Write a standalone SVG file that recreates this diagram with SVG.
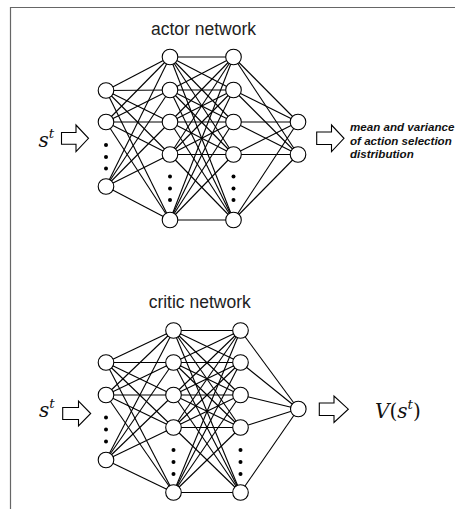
<svg xmlns="http://www.w3.org/2000/svg" width="455" height="509" viewBox="0 0 455 509">
<style>
.frame{fill:none;stroke:#666;stroke-width:1.2}
.c{stroke:#000;stroke-width:1.1;fill:none}
.n{fill:#fff;stroke:#000;stroke-width:1.1}
.dot{fill:#000}
.arr{fill:#fff;stroke:#000;stroke-width:1.1;stroke-linejoin:miter}
.title{font-family:"Liberation Sans",Arial,sans-serif;font-size:17.5px;fill:#222}
.math{font-family:"DejaVu Serif","Liberation Serif",serif;font-style:italic;font-size:20px;fill:#111}
.up{font-style:normal}
.sup{font-size:13.5px}
.out{font-family:"Liberation Sans",Arial,sans-serif;font-weight:bold;font-style:italic;font-size:11.6px;fill:#111}
</style>
<rect width="455" height="509" fill="#fff"/>
<path class="frame" d="M10.5,509 V7.5 H455"/>

<g id="connectors">
<g id="actor-links" class="c">
<line x1="106" y1="90.5" x2="170" y2="57"/><line x1="106" y1="90.5" x2="170" y2="90"/><line x1="106" y1="90.5" x2="170" y2="122"/><line x1="106" y1="90.5" x2="170" y2="154.5"/><line x1="106" y1="90.5" x2="170" y2="220"/>
<line x1="106" y1="122" x2="170" y2="57"/><line x1="106" y1="122" x2="170" y2="90"/><line x1="106" y1="122" x2="170" y2="122"/><line x1="106" y1="122" x2="170" y2="154.5"/><line x1="106" y1="122" x2="170" y2="220"/>
<line x1="106" y1="186.5" x2="170" y2="57"/><line x1="106" y1="186.5" x2="170" y2="90"/><line x1="106" y1="186.5" x2="170" y2="122"/><line x1="106" y1="186.5" x2="170" y2="154.5"/><line x1="106" y1="186.5" x2="170" y2="220"/>
<line x1="170" y1="57" x2="233.5" y2="57"/><line x1="170" y1="57" x2="233.5" y2="90"/><line x1="170" y1="57" x2="233.5" y2="122"/><line x1="170" y1="57" x2="233.5" y2="154.5"/><line x1="170" y1="57" x2="233.5" y2="220"/>
<line x1="170" y1="90" x2="233.5" y2="57"/><line x1="170" y1="90" x2="233.5" y2="90"/><line x1="170" y1="90" x2="233.5" y2="122"/><line x1="170" y1="90" x2="233.5" y2="154.5"/><line x1="170" y1="90" x2="233.5" y2="220"/>
<line x1="170" y1="122" x2="233.5" y2="57"/><line x1="170" y1="122" x2="233.5" y2="90"/><line x1="170" y1="122" x2="233.5" y2="122"/><line x1="170" y1="122" x2="233.5" y2="154.5"/><line x1="170" y1="122" x2="233.5" y2="220"/>
<line x1="170" y1="154.5" x2="233.5" y2="57"/><line x1="170" y1="154.5" x2="233.5" y2="90"/><line x1="170" y1="154.5" x2="233.5" y2="122"/><line x1="170" y1="154.5" x2="233.5" y2="154.5"/><line x1="170" y1="154.5" x2="233.5" y2="220"/>
<line x1="170" y1="220" x2="233.5" y2="57"/><line x1="170" y1="220" x2="233.5" y2="90"/><line x1="170" y1="220" x2="233.5" y2="122"/><line x1="170" y1="220" x2="233.5" y2="154.5"/><line x1="170" y1="220" x2="233.5" y2="220"/>
<line x1="233.5" y1="57" x2="298" y2="122"/><line x1="233.5" y1="57" x2="298" y2="154.5"/>
<line x1="233.5" y1="90" x2="298" y2="122"/><line x1="233.5" y1="90" x2="298" y2="154.5"/>
<line x1="233.5" y1="122" x2="298" y2="122"/><line x1="233.5" y1="122" x2="298" y2="154.5"/>
<line x1="233.5" y1="154.5" x2="298" y2="122"/><line x1="233.5" y1="154.5" x2="298" y2="154.5"/>
<line x1="233.5" y1="220" x2="298" y2="122"/><line x1="233.5" y1="220" x2="298" y2="154.5"/>
</g>
<g id="critic-links" class="c">
<line x1="106" y1="362.5" x2="173.5" y2="330.5"/><line x1="106" y1="362.5" x2="173.5" y2="362.5"/><line x1="106" y1="362.5" x2="173.5" y2="395"/><line x1="106" y1="362.5" x2="173.5" y2="427.5"/><line x1="106" y1="362.5" x2="173.5" y2="492.5"/>
<line x1="106" y1="395" x2="173.5" y2="330.5"/><line x1="106" y1="395" x2="173.5" y2="362.5"/><line x1="106" y1="395" x2="173.5" y2="395"/><line x1="106" y1="395" x2="173.5" y2="427.5"/><line x1="106" y1="395" x2="173.5" y2="492.5"/>
<line x1="106" y1="460" x2="173.5" y2="330.5"/><line x1="106" y1="460" x2="173.5" y2="362.5"/><line x1="106" y1="460" x2="173.5" y2="395"/><line x1="106" y1="460" x2="173.5" y2="427.5"/><line x1="106" y1="460" x2="173.5" y2="492.5"/>
<line x1="173.5" y1="330.5" x2="240.5" y2="330.5"/><line x1="173.5" y1="330.5" x2="240.5" y2="362.5"/><line x1="173.5" y1="330.5" x2="240.5" y2="395"/><line x1="173.5" y1="330.5" x2="240.5" y2="427.5"/><line x1="173.5" y1="330.5" x2="240.5" y2="492.5"/>
<line x1="173.5" y1="362.5" x2="240.5" y2="330.5"/><line x1="173.5" y1="362.5" x2="240.5" y2="362.5"/><line x1="173.5" y1="362.5" x2="240.5" y2="395"/><line x1="173.5" y1="362.5" x2="240.5" y2="427.5"/><line x1="173.5" y1="362.5" x2="240.5" y2="492.5"/>
<line x1="173.5" y1="395" x2="240.5" y2="330.5"/><line x1="173.5" y1="395" x2="240.5" y2="362.5"/><line x1="173.5" y1="395" x2="240.5" y2="395"/><line x1="173.5" y1="395" x2="240.5" y2="427.5"/><line x1="173.5" y1="395" x2="240.5" y2="492.5"/>
<line x1="173.5" y1="427.5" x2="240.5" y2="330.5"/><line x1="173.5" y1="427.5" x2="240.5" y2="362.5"/><line x1="173.5" y1="427.5" x2="240.5" y2="395"/><line x1="173.5" y1="427.5" x2="240.5" y2="427.5"/><line x1="173.5" y1="427.5" x2="240.5" y2="492.5"/>
<line x1="173.5" y1="492.5" x2="240.5" y2="330.5"/><line x1="173.5" y1="492.5" x2="240.5" y2="362.5"/><line x1="173.5" y1="492.5" x2="240.5" y2="395"/><line x1="173.5" y1="492.5" x2="240.5" y2="427.5"/><line x1="173.5" y1="492.5" x2="240.5" y2="492.5"/>
<line x1="240.5" y1="330.5" x2="298.3" y2="409"/><line x1="240.5" y1="362.5" x2="298.3" y2="409"/><line x1="240.5" y1="395" x2="298.3" y2="409"/><line x1="240.5" y1="427.5" x2="298.3" y2="409"/><line x1="240.5" y1="492.5" x2="298.3" y2="409"/>
</g>
</g>

<g id="actor">
<text class="title" x="203.5" y="35" text-anchor="middle">actor network</text>
<g id="actor-l1">
<circle class="n" cx="106" cy="90.5" r="7.8"/><circle class="n" cx="106" cy="122" r="7.8"/><circle class="n" cx="106" cy="186.5" r="7.8"/>
<circle class="dot" cx="106" cy="145" r="2"/><circle class="dot" cx="106" cy="157" r="2"/><circle class="dot" cx="106" cy="168.5" r="2"/>
</g>
<g id="actor-l2">
<circle class="n" cx="170" cy="57" r="7.8"/><circle class="n" cx="170" cy="90" r="7.8"/><circle class="n" cx="170" cy="122" r="7.8"/><circle class="n" cx="170" cy="154.5" r="7.8"/><circle class="n" cx="170" cy="220" r="7.8"/>
<circle class="dot" cx="170" cy="176.5" r="2"/><circle class="dot" cx="170" cy="188.5" r="2"/><circle class="dot" cx="170" cy="200" r="2"/>
</g>
<g id="actor-l3">
<circle class="n" cx="233.5" cy="57" r="7.8"/><circle class="n" cx="233.5" cy="90" r="7.8"/><circle class="n" cx="233.5" cy="122" r="7.8"/><circle class="n" cx="233.5" cy="154.5" r="7.8"/><circle class="n" cx="233.5" cy="220" r="7.8"/>
<circle class="dot" cx="233.5" cy="176.5" r="2"/><circle class="dot" cx="233.5" cy="188.5" r="2"/><circle class="dot" cx="233.5" cy="200" r="2"/>
</g>
<g id="actor-l4">
<circle class="n" cx="298" cy="122" r="7.8"/><circle class="n" cx="298" cy="154.5" r="7.8"/>
</g>
<g id="actor-input">
<text class="math" x="38.5" y="146.5">s<tspan class="sup" dy="-9">t</tspan></text>
<polygon class="arr" points="61.5,132.5 76,132.5 76,125 88.5,138.3 76,151.7 76,144.3 61.5,144.3"/>
</g>
<g id="actor-output">
<polygon class="arr" points="316.7,132 331.5,132 331.5,125 344,138.3 331.5,151.7 331.5,144.5 316.7,144.5"/>
<text class="out" x="350" y="131">mean and variance</text>
<text class="out" x="350" y="144.5">of action selection</text>
<text class="out" x="350" y="158">distribution</text>
</g>
</g>

<g id="critic">
<text class="title" x="199.7" y="308.3" text-anchor="middle">critic network</text>
<g id="critic-l1">
<circle class="n" cx="106" cy="362.5" r="7.8"/><circle class="n" cx="106" cy="395" r="7.8"/><circle class="n" cx="106" cy="460" r="7.8"/>
<circle class="dot" cx="106" cy="417.5" r="2"/><circle class="dot" cx="106" cy="429.5" r="2"/><circle class="dot" cx="106" cy="441.5" r="2"/>
</g>
<g id="critic-l2">
<circle class="n" cx="173.5" cy="330.5" r="7.8"/><circle class="n" cx="173.5" cy="362.5" r="7.8"/><circle class="n" cx="173.5" cy="395" r="7.8"/><circle class="n" cx="173.5" cy="427.5" r="7.8"/><circle class="n" cx="173.5" cy="492.5" r="7.8"/>
<circle class="dot" cx="173.5" cy="450" r="2"/><circle class="dot" cx="173.5" cy="462" r="2"/><circle class="dot" cx="173.5" cy="474" r="2"/>
</g>
<g id="critic-l3">
<circle class="n" cx="240.5" cy="330.5" r="7.8"/><circle class="n" cx="240.5" cy="362.5" r="7.8"/><circle class="n" cx="240.5" cy="395" r="7.8"/><circle class="n" cx="240.5" cy="427.5" r="7.8"/><circle class="n" cx="240.5" cy="492.5" r="7.8"/>
<circle class="dot" cx="240.5" cy="450" r="2"/><circle class="dot" cx="240.5" cy="462" r="2"/><circle class="dot" cx="240.5" cy="474" r="2"/>
</g>
<g id="critic-l4">
<circle class="n" cx="298.3" cy="409" r="7.8"/>
</g>
<g id="critic-input">
<text class="math" x="39" y="417">s<tspan class="sup" dy="-9">t</tspan></text>
<polygon class="arr" points="62.7,407.5 78.5,407.5 78.5,401 90.7,413.5 78.5,426 78.5,419.5 62.7,419.5"/>
</g>
<g id="critic-output">
<polygon class="arr" points="319.3,403 334,403 334,396 348.3,409.2 334,422.4 334,415.5 319.3,415.5"/>
<text class="math" x="375" y="418">V<tspan class="up">(</tspan>s<tspan class="sup" dy="-9">t</tspan><tspan class="up" dy="9">)</tspan></text>
</g>
</g>
</svg>
